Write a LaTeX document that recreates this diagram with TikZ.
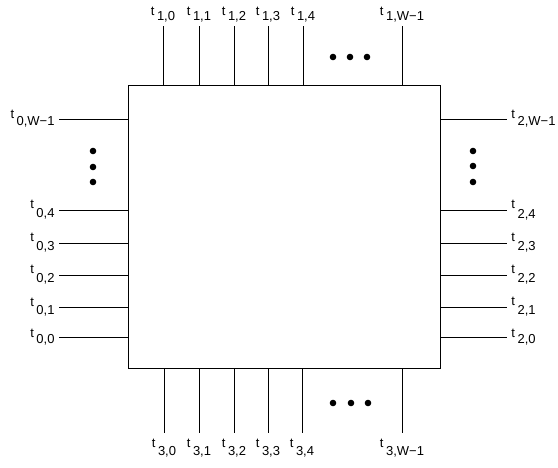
\documentclass[tikz,border=0pt]{standalone}
\usepackage{fontspec}
\setmainfont{Liberation Sans}
\usetikzlibrary{positioning}
\newcommand{\tpin}[2][5pt]{t\hspace{2.5pt}\raisebox{-#1}{#2}}

\begin{document}
\begin{tikzpicture}[x=1pt, y=-1pt, line width=0.9pt,
    lab/.style={inner sep=1pt, font=\fontsize{13}{15}\selectfont},
    dot/.style={fill=black}]
  \useasboundingbox (0,0) rectangle (558,468);
  \node[draw, line width=1pt, inner sep=0pt, outer sep=0pt,
        minimum width=312pt, minimum height=283pt] (chip) at (284,227.5) {};
  % side 1 (top)
  \coordinate (t10) at (163,26); \coordinate (t11) at (199,26); \coordinate (t12) at (234,26);
  \coordinate (t13) at (268,26); \coordinate (t14) at (303,26); \coordinate (t1w) at (402,26);
  \draw (t10 |- chip.north) -- (t10) node[lab, above=2pt] (l10) {\tpin{1,0}};
  \draw (t11 |- chip.north) -- (t11) node[lab, above=2pt] (l11) {\tpin{1,1}};
  \draw (t12 |- chip.north) -- (t12) node[lab, above=2pt] (l12) {\tpin{1,2}};
  \draw (t13 |- chip.north) -- (t13) node[lab, above=2pt] (l13) {\tpin{1,3}};
  \draw (t14 |- chip.north) -- (t14) node[lab, above=2pt] (l14) {\tpin{1,4}};
  \draw (t1w |- chip.north) -- (t1w) node[lab, above=2pt] (l1w) {\tpin{1,W−1}};
  % side 3 (bottom)
  \coordinate (t30) at (164,433); \coordinate (t31) at (199,433); \coordinate (t32) at (234,433);
  \coordinate (t33) at (268,433); \coordinate (t34) at (302,433); \coordinate (t3w) at (402,433);
  \draw (t30 |- chip.south) -- (t30) node[lab, below=5pt] (l30) {\tpin[8pt]{3,0}};
  \draw (t31 |- chip.south) -- (t31) node[lab, below=5pt] (l31) {\tpin[8pt]{3,1}};
  \draw (t32 |- chip.south) -- (t32) node[lab, below=5pt] (l32) {\tpin[8pt]{3,2}};
  \draw (t33 |- chip.south) -- (t33) node[lab, below=5pt] (l33) {\tpin[8pt]{3,3}};
  \draw (t34 |- chip.south) -- (t34) node[lab, below=5pt] (l34) {\tpin[8pt]{3,4}};
  \draw (t3w |- chip.south) -- (t3w) node[lab, below=5pt] (l3w) {\tpin[8pt]{3,W−1}};
  % side 0 (left)
  \coordinate (t0w) at (59,119); \coordinate (t04) at (59,210); \coordinate (t03) at (59,243);
  \coordinate (t02) at (59,275); \coordinate (t01) at (59,307); \coordinate (t00) at (59,337);
  \draw (t0w -| chip.west) -- (t0w) node[lab, left=3pt] (l0w) {\tpin[7pt]{0,W−1}};
  \draw (t04 -| chip.west) -- (t04) node[lab, left=3pt] (l04) {\tpin[9pt]{0,4}};
  \draw (t03 -| chip.west) -- (t03) node[lab, left=3pt] (l03) {\tpin[9pt]{0,3}};
  \draw (t02 -| chip.west) -- (t02) node[lab, left=3pt] (l02) {\tpin[9pt]{0,2}};
  \draw (t01 -| chip.west) -- (t01) node[lab, left=3pt] (l01) {\tpin[8pt]{0,1}};
  \draw (t00 -| chip.west) -- (t00) node[lab, left=3pt] (l00) {\tpin[6pt]{0,0}};
  % side 2 (right)
  \coordinate (t2w) at (507,119); \coordinate (t24) at (507,210); \coordinate (t23) at (507,243);
  \coordinate (t22) at (507,275); \coordinate (t21) at (507,307); \coordinate (t20) at (507,337);
  \draw (t2w -| chip.east) -- (t2w) node[lab, right=3pt] (l2w) {\tpin[7pt]{2,W−1}};
  \draw (t24 -| chip.east) -- (t24) node[lab, right=3pt] (l24) {\tpin[10pt]{2,4}};
  \draw (t23 -| chip.east) -- (t23) node[lab, right=3pt] (l23) {\tpin[9pt]{2,3}};
  \draw (t22 -| chip.east) -- (t22) node[lab, right=3pt] (l22) {\tpin[9pt]{2,2}};
  \draw (t21 -| chip.east) -- (t21) node[lab, right=3pt] (l21) {\tpin[9pt]{2,1}};
  \draw (t20 -| chip.east) -- (t20) node[lab, right=3pt] (l20) {\tpin[6pt]{2,0}};
  % ellipses
  \fill[dot] (333,57) circle (3.3pt) (350,57) circle (3.3pt) (367,57) circle (3.3pt);
  \fill[dot] (333,403) circle (3.3pt) (351,403) circle (3.3pt) (368,403) circle (3.3pt);
  \fill[dot] (93,151) circle (3.3pt) (93,167) circle (3.3pt) (93,182) circle (3.3pt);
  \fill[dot] (473,151) circle (3.3pt) (473,166) circle (3.3pt) (473,182) circle (3.3pt);
\end{tikzpicture}
\end{document}
